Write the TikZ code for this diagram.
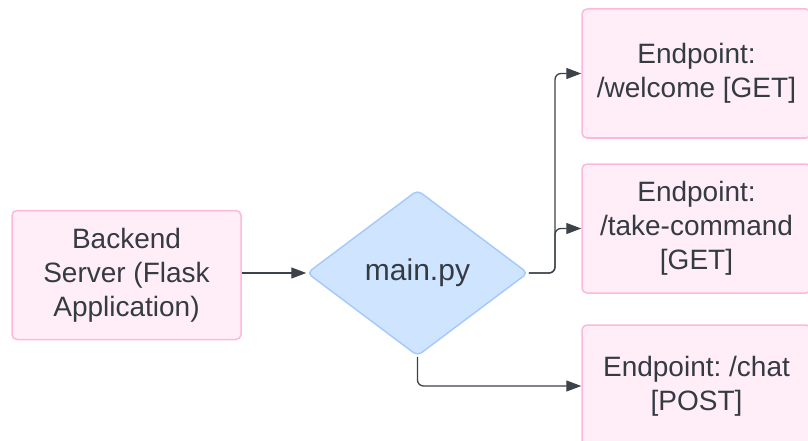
\documentclass[tikz,border=0pt]{standalone}
\usepackage{fontspec}
\setmainfont{Liberation Sans}
\usetikzlibrary{
    shapes.geometric,
    arrows.meta
}
\definecolor{pinkfill}{HTML}{FFEEF8}
\definecolor{pinkline}{HTML}{FFB8D9}
\definecolor{bluefill}{HTML}{CFE4FF}
\definecolor{blueline}{HTML}{A6CAFF}
\definecolor{linkgray}{HTML}{3C424A}
\definecolor{textgray}{HTML}{353B43}
\frenchspacing

\begin{document}
\begin{tikzpicture}[x=1pt, y=-1pt,
    box/.style={draw=pinkline, fill=pinkfill, line width=1.5pt, rounded corners=5pt,
        minimum width=229pt, minimum height=129pt, align=center, text=textgray,
        font=\fontsize{28}{34}\selectfont},
    decision/.style={diamond, draw=blueline, fill=bluefill, line width=1.5pt,
        rounded corners=5pt, inner sep=0pt, minimum width=221pt, minimum height=166pt,
        text=textgray, font=\fontsize{30}{36}\selectfont},
    link/.style={draw=linkgray, line width=1.3pt, rounded corners=6pt,
        -{Triangle[length=15pt, width=11pt]}}
    ]
    \clip (0,0) rectangle (808,441);

    % server and the dispatching script
    \node[box] (backend) at (126.5,275) {Backend\\Server (Flask\\Application)};
    \node[decision] (main) at (417.5,273) {main.py};

    % routes
    \node[box] (welcome) at (696.5,73.5) {Endpoint:\\/welcome [GET]};
    \node[box] (command) at (696.5,228.5) {Endpoint:\\/take-command\\{}[GET]};
    \node[box, minimum height=122pt] (chat) at (696.5,386) {Endpoint: /chat\\{}[POST]};

    \coordinate (fork) at (555,273);

    \draw[link] (backend.east |- main.west) -- (main.west);
    \draw[link] (main.east) -- (fork) |- (welcome.west);
    \draw[link] (main.east) -- (fork) |- (command.west);
    \draw[link] (main.south) |- (chat.west);
\end{tikzpicture}
\end{document}
